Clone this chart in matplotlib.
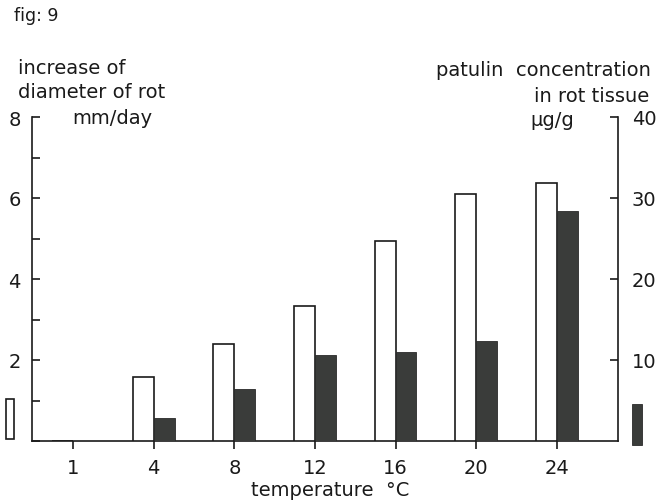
import matplotlib
matplotlib.use("Agg")
import matplotlib.pyplot as plt
from matplotlib.patches import Rectangle
from matplotlib.ticker import MultipleLocator

temps = ["1", "4", "8", "12", "16", "20", "24"]
rot_growth = [0.0, 1.58, 2.40, 3.34, 4.93, 6.10, 6.38]      # mm/day (left axis)
patulin = [0.0, 2.8, 6.4, 10.6, 11.0, 12.3, 28.4]           # ug/g (right axis)

plt.rcParams['font.family'] = ['DejaVu Sans']
W, H = 665, 502
fig = plt.figure(figsize=(W / 100, H / 100), dpi=100)

def fx(px):
    return px / W

def fy(py):
    return 1 - py / H

ax = fig.add_axes([fx(32), fy(442), fx(618) - fx(32), fy(118) - fy(442)])
ax2 = ax.twinx()

x = list(range(len(temps)))
bw = 0.26
lw = 1.2
ax.bar([i - bw / 2 for i in x], rot_growth, width=bw, facecolor='white',
       edgecolor='#1a1a1a', linewidth=lw, zorder=3)
ax2.bar([i + bw / 2 for i in x], patulin, width=bw, facecolor='#3a3c3a',
        edgecolor='#2a2a2a', linewidth=0.6, zorder=3)

ax.set_xlim(-0.51, 6.76)
ax.set_ylim(0, 8)
ax2.set_ylim(0, 40)

ax.set_xticks(x)
ax.set_xticklabels(temps)
ax.yaxis.set_minor_locator(MultipleLocator(1))
ax.set_yticks([2, 4, 6, 8])
ax.set_yticklabels(["2", "4", "6", "8"])
ax2.set_yticks([10, 20, 30, 40])
ax2.set_yticklabels(["10", "20", "30", "40"])

fs = 14
ax.tick_params(axis='y', which='both', direction='in', length=6, width=lw,
               pad=8, labelsize=fs, colors='#1a1a1a')
ax.tick_params(axis='x', direction='out', length=6, width=lw, pad=6,
               labelsize=fs, colors='#1a1a1a')
ax2.tick_params(axis='y', direction='in', length=6, width=lw, pad=10,
                labelsize=fs, colors='#1a1a1a')

for a in (ax, ax2):
    a.spines['top'].set_visible(False)
    for s in ('left', 'right', 'bottom'):
        a.spines[s].set_linewidth(lw)
        a.spines[s].set_color('#1a1a1a')
ax.spines['right'].set_visible(False)
ax2.spines['left'].set_visible(False)
ax2.spines['bottom'].set_visible(False)

tc = '#1a1a1a'
fig.text(fx(14), fy(16), "fig: 9", fontsize=12.5, color=tc, va='center', ha='left')
fig.text(fx(18), fy(68), "increase of", fontsize=fs, color=tc, va='center', ha='left')
fig.text(fx(18), fy(93), "diameter of rot", fontsize=fs, color=tc, va='center', ha='left')
fig.text(fx(72), fy(118), "mm/day", fontsize=fs, color=tc, va='center', ha='left')
fig.text(fx(651), fy(71), "patulin  concentration", fontsize=fs, color=tc, va='center', ha='right')
fig.text(fx(649), fy(96), "in rot tissue", fontsize=fs, color=tc, va='center', ha='right')
fig.text(fx(530), fy(121), "µg/g", fontsize=fs, color=tc, va='center', ha='left')
fig.text(fx(330), fy(491), "temperature  °C", fontsize=fs, color=tc, va='center', ha='center')

# legend swatches
fig.patches.append(Rectangle((fx(6), fy(440)), fx(14) - fx(6), fy(400) - fy(440),
                             transform=fig.transFigure, facecolor='white',
                             edgecolor='#1a1a1a', linewidth=lw))
fig.patches.append(Rectangle((fx(632), fy(446)), fx(642) - fx(632), fy(405) - fy(446),
                             transform=fig.transFigure, facecolor='#3a3c3a',
                             edgecolor='#2a2a2a', linewidth=0.6))

fig.savefig("out.png", dpi=100)
